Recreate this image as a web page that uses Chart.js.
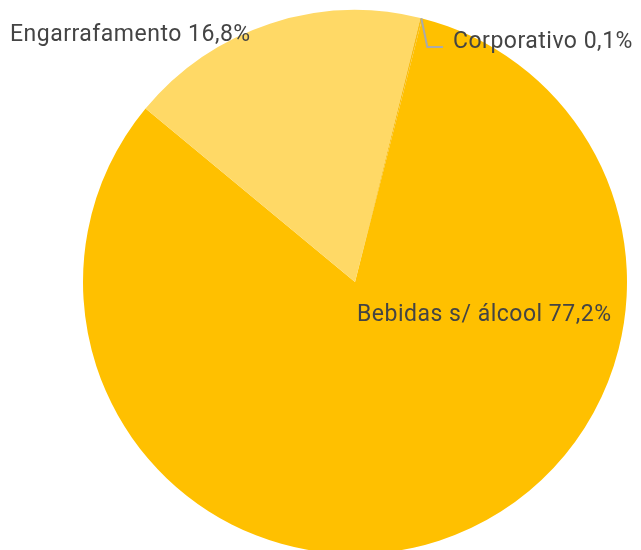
<!DOCTYPE html>
<html>
<head>
<meta charset="utf-8">
<script src="https://cdn.jsdelivr.net/npm/chart.js@4"></script>
<style>
  html, body { margin: 0; padding: 0; background: #fff; overflow: hidden; }
  #wrap { width: 641px; height: 560px; }
</style>
</head>
<body>
<div id="wrap"><canvas id="pieChart" width="641" height="560"></canvas></div>
<script>
const categories = ['Bebidas s/ álcool', 'Engarrafamento', 'Corporativo'];
const shares = [77.2, 16.8, 0.1];
const shareLabels = ['77,2%', '16,8%', '0,1%'];
const sliceColors = ['#ffc000', '#ffd966', '#f9bd10'];

// label placement (text anchor + optional leader line)
const labelSpots = [
    { x: 357, y: 315, align: 'left' },
    { x: 10, y: 35, align: 'left' },
    { x: 453, y: 42, align: 'left', leader: true }
];

const labelPlugin = {
    id: 'sliceLabels',
    afterDatasetsDraw(chart) {
        const ctx = chart.ctx;
        const arcs = chart.getDatasetMeta(0).data;
        ctx.save();
        ctx.font = '23px Roboto';
        ctx.letterSpacing = '0.5px';
        ctx.fillStyle = '#444444';
        ctx.textBaseline = 'middle';
        arcs.forEach((arc, i) => {
            const spot = labelSpots[i];
            if (spot.leader) {
                const mid = (arc.startAngle + arc.endAngle) / 2;
                const sx = arc.x + Math.cos(mid) * arc.outerRadius;
                const sy = arc.y + Math.sin(mid) * arc.outerRadius;
                ctx.strokeStyle = '#aaaaaa';
                ctx.lineWidth = 2;
                ctx.beginPath();
                ctx.moveTo(sx, sy);
                ctx.lineTo(sx + 6, spot.y + 5);
                ctx.lineTo(spot.x - 10, spot.y + 5);
                ctx.stroke();
            }
            ctx.textAlign = spot.align;
            ctx.fillText(categories[i] + ' ' + shareLabels[i], spot.x, spot.y);
        });
        ctx.restore();
    }
};

new Chart(document.getElementById('pieChart').getContext('2d'), {
    type: 'pie',
    data: {
        labels: categories,
        datasets: [{
            data: shares,
            backgroundColor: sliceColors,
            borderWidth: 0
        }]
    },
    options: {
        responsive: false,
        animation: false,
        rotation: 14.3,
        layout: { padding: { left: 83, right: 14, top: 10, bottom: 6 } },
        plugins: {
            legend: { display: false },
            tooltip: { enabled: false }
        }
    },
    plugins: [labelPlugin]
});
</script>
</body>
</html>
